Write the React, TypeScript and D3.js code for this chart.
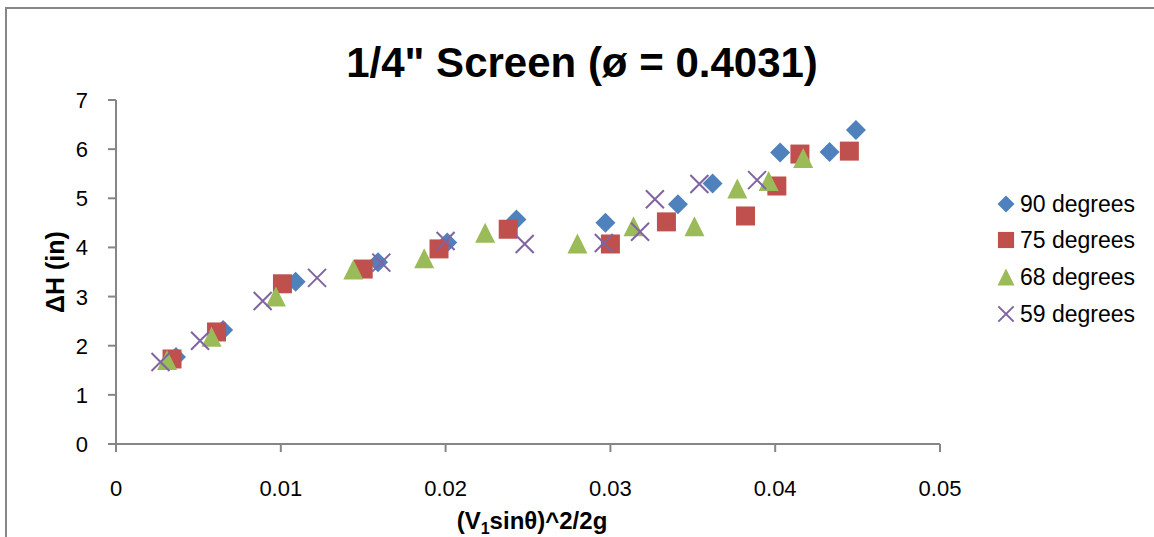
import React from "react";
import * as d3 from "d3";

const title = "1/4\" Screen (ø = 0.4031)";
const xTicks = [0, 0.01, 0.02, 0.03, 0.04, 0.05];
const yTicks = [0, 1, 2, 3, 4, 5, 6, 7];

const deg90: [number, number][] = [
  [0.00364, 1.77], [0.0065, 2.32], [0.0109, 3.3], [0.0159, 3.7], [0.0201, 4.1], [0.0243, 4.57],
  [0.0297, 4.5], [0.0341, 4.88], [0.0362, 5.3], [0.0403, 5.93], [0.0433, 5.94], [0.0449, 6.39],
];
const deg75: [number, number][] = [
  [0.0034, 1.73], [0.0061, 2.28], [0.0101, 3.26], [0.015, 3.56], [0.0196, 3.97], [0.0238, 4.37],
  [0.03, 4.07], [0.0334, 4.52], [0.0382, 4.64], [0.0401, 5.25], [0.0415, 5.9], [0.0445, 5.96],
];
const deg68: [number, number][] = [
  [0.0031, 1.71], [0.0058, 2.18], [0.0097, 3.0], [0.0144, 3.55], [0.0187, 3.78], [0.0224, 4.3],
  [0.028, 4.08], [0.0314, 4.43], [0.0351, 4.43], [0.0377, 5.2], [0.0396, 5.35], [0.0417, 5.82],
];
const deg59: [number, number][] = [
  [0.0027, 1.67], [0.0051, 2.1], [0.0089, 2.91], [0.0122, 3.38], [0.0161, 3.69], [0.02, 4.13],
  [0.0248, 4.07], [0.0296, 4.09], [0.0318, 4.32], [0.0327, 4.98], [0.0354, 5.29], [0.0389, 5.37],
];

const seriesNames = ["90 degrees", "75 degrees", "68 degrees", "59 degrees"];
const seriesData = [deg90, deg75, deg68, deg59];
const seriesShapes = ["diamond", "square", "triangle", "x"];
const seriesColors = ["#4F81BD", "#C0504D", "#9BBB59", "#8064A2"];

const W = 1154;
const H = 537;
const AXIS = "#868686";
const FONT = "'Liberation Sans', Arial, sans-serif";

function Marker({ shape, cx, cy, s, color }: { shape: string; cx: number; cy: number; s: number; color: string }) {
  const h = s / 2;
  if (shape === "diamond") {
    return <path d={`M${cx},${cy - h}L${cx + h},${cy}L${cx},${cy + h}L${cx - h},${cy}Z`} fill={color} />;
  }
  if (shape === "square") {
    const q = h * 0.95;
    return <rect x={cx - q} y={cy - q} width={2 * q} height={2 * q} fill={color} />;
  }
  if (shape === "triangle") {
    return <path d={`M${cx},${cy - h}L${cx + h},${cy + h}L${cx - h},${cy + h}Z`} fill={color} />;
  }
  const q = h * 0.9;
  return (
    <path
      d={`M${cx - q},${cy - q}L${cx + q},${cy + q}M${cx + q},${cy - q}L${cx - q},${cy + q}`}
      stroke={color}
      strokeWidth={2}
      fill="none"
    />
  );
}

export default function App() {
  const x = d3.scaleLinear().domain([0, 0.05]).range([116, 940]);
  const y = d3.scaleLinear().domain([0, 7]).range([444, 100]);
  const legendY = [204, 240, 277, 314];

  return (
    <svg
      width={W}
      height={H}
      style={{ position: "fixed", left: 0, top: 0, background: "#fff" }}
      fontFamily={FONT}
    >
      <rect x={0} y={0} width={W} height={H} fill="#fff" />
      {/* chart border */}
      <path d={`M6,${H + 5}L6,8L${W + 5},8`} stroke={AXIS} strokeWidth={2} fill="none" />

      <text x={582} y={77} textAnchor="middle" fontSize={42} fontWeight="bold" fill="#000">
        {title}
      </text>

      {/* y axis */}
      <line x1={x(0)} x2={x(0)} y1={y(7)} y2={y(0)} stroke={AXIS} strokeWidth={2} />
      {yTicks.map((t) => (
        <g key={"y" + t}>
          <line x1={x(0) - 8} x2={x(0)} y1={y(t)} y2={y(t)} stroke={AXIS} strokeWidth={2} />
          <text x={88} y={y(t) + 8} textAnchor="end" fontSize={22} fill="#000">
            {t}
          </text>
        </g>
      ))}
      {/* x axis */}
      <line x1={x(0)} x2={x(0.05)} y1={y(0)} y2={y(0)} stroke={AXIS} strokeWidth={2} />
      {xTicks.map((t) => (
        <g key={"x" + t}>
          <line x1={x(t)} x2={x(t)} y1={y(0)} y2={y(0) + 8} stroke={AXIS} strokeWidth={2} />
          <text x={x(t)} y={496} textAnchor="middle" fontSize={22} fill="#000">
            {d3.format("")(t)}
          </text>
        </g>
      ))}

      <text
        transform={`translate(64,272) rotate(-90)`}
        textAnchor="middle"
        fontSize={25}
        fontWeight="bold"
        fill="#000"
      >
        ΔH (in)
      </text>
      <text x={532} y={529} textAnchor="middle" fontSize={24} fontWeight="bold" fill="#000">
        (V<tspan fontSize={16} dy={5}>1</tspan>
        <tspan dy={-5}>sinθ)^2/2g</tspan>
      </text>

      {seriesData.map((data, i) => (
        <g key={"s" + i}>
          {data.map((d, j) => (
            <Marker key={j} shape={seriesShapes[i]} cx={x(d[0])} cy={y(d[1])} s={20} color={seriesColors[i]} />
          ))}
        </g>
      ))}

      {seriesNames.map((n, i) => (
        <g key={"l" + i}>
          <Marker shape={seriesShapes[i]} cx={1006} cy={legendY[i]} s={17} color={seriesColors[i]} />
          <text x={1020} y={legendY[i] + 8} fontSize={23} fill="#000">
            {n}
          </text>
        </g>
      ))}
    </svg>
  );
}
